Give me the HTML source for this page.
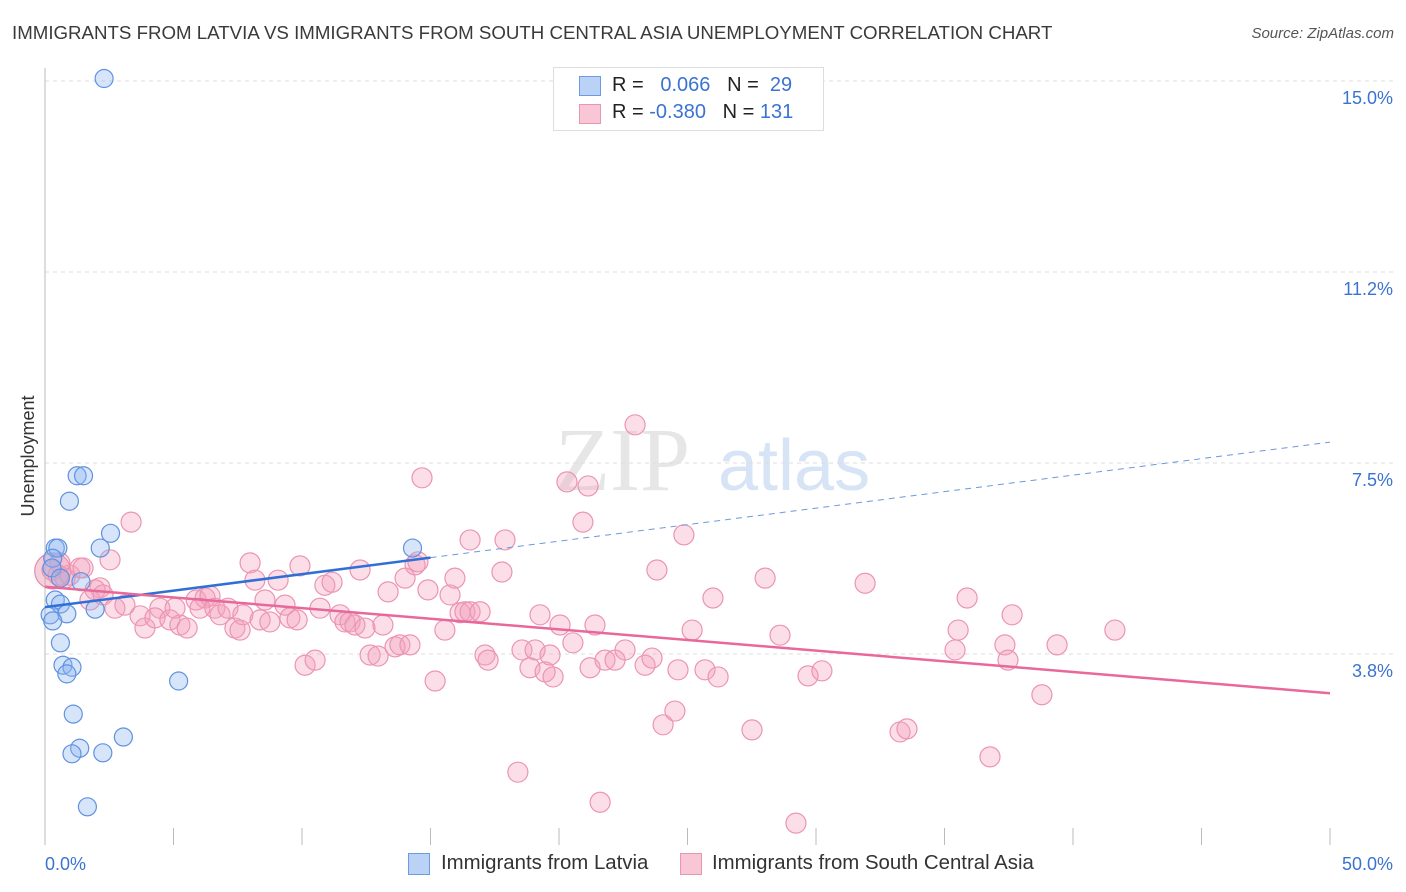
<!DOCTYPE html>
<html><head><meta charset="utf-8">
<style>
body{margin:0;background:#fff;font-family:"Liberation Sans",sans-serif;}
#wrap{position:relative;width:1406px;height:892px;overflow:hidden;}
.t{position:absolute;white-space:nowrap;}
</style></head>
<body>
<div id="wrap">
<div class="t" style="left:12px;top:22px;font-size:18.7px;color:#3a3a3a;">IMMIGRANTS FROM LATVIA VS IMMIGRANTS FROM SOUTH CENTRAL ASIA UNEMPLOYMENT CORRELATION CHART</div>
<div class="t" style="right:12px;top:25px;font-size:15px;color:#555;font-style:italic;">Source: ZipAtlas.com</div>
<svg id="svg" width="1406" height="892" style="position:absolute;left:0;top:0"></svg>
</div>
<script>
const yTicks=[3.75,7.5,11.25,15];
const yTickLabels=["3.8%","7.5%","11.2%","15.0%"];
const xTicks=[0,5,10,15,20,25,30,35,40,45,50];
const latviaX=[2.3,0.4,0.5,1.25,1.5,0.95,2.55,2.15,1.4,0.3,0.27,0.6,0.4,0.6,0.2,0.85,1.95,0.3,0.6,0.7,1.05,0.85,1.1,1.35,1.05,2.25,3.05,1.65,5.2,14.3];
const latviaY=[15.05,5.83,5.83,7.25,7.25,6.75,6.12,5.83,5.17,5.63,5.44,5.24,4.81,4.73,4.52,4.54,4.63,4.4,3.97,3.53,3.49,3.36,2.57,1.9,1.79,1.81,2.12,0.75,3.22,5.83];
const asiaX=[0.27,0.51,0.78,0.97,1.36,0.58,1.48,2.14,2.53,3.35,1.95,1.75,2.26,2.72,3.11,3.70,3.89,4.47,4.28,4.86,5.25,5.53,5.06,5.88,6.23,6.42,6.03,6.61,6.81,7.12,7.39,7.59,7.70,7.98,8.17,8.56,8.37,8.75,9.07,9.34,9.53,9.81,9.92,10.12,10.51,10.70,10.89,11.17,11.48,11.67,11.87,12.06,12.26,12.45,12.65,12.96,13.15,13.35,13.62,13.81,14.01,14.20,14.40,14.51,14.67,14.90,15.18,15.56,15.76,15.95,16.15,16.34,16.54,16.93,16.54,17.12,17.24,17.78,17.90,18.40,18.56,18.87,19.07,19.26,19.46,19.65,19.77,20.04,20.31,20.54,20.93,21.13,21.21,21.40,21.60,21.79,22.18,22.57,22.96,23.35,23.62,23.81,24.05,24.51,24.63,24.86,25.18,25.68,25.99,26.19,27.51,28.02,28.60,29.22,29.69,30.23,31.91,33.27,33.54,35.41,35.53,35.88,36.77,37.35,37.47,37.63,38.79,39.38,41.63];
const asiaY=[5.40,5.30,5.24,5.30,5.44,5.54,5.44,5.05,5.60,6.34,5.01,4.81,4.91,4.65,4.71,4.50,4.26,4.65,4.46,4.42,4.32,4.26,4.65,4.81,4.85,4.89,4.65,4.65,4.52,4.65,4.26,4.22,4.52,5.54,5.20,4.81,4.42,4.38,5.20,4.71,4.46,4.42,5.48,3.53,3.63,4.65,5.10,5.16,4.52,4.38,4.38,4.32,5.40,4.26,3.73,3.71,4.32,4.97,3.89,3.93,5.24,3.93,5.50,5.56,7.21,5.01,3.22,4.22,4.91,5.24,4.56,4.58,4.58,4.58,5.99,3.73,3.63,5.36,5.99,1.43,3.83,3.48,3.83,4.52,3.40,3.73,3.30,4.32,7.13,3.97,6.34,7.05,3.48,4.32,0.84,3.63,3.63,3.83,8.25,3.53,3.67,5.40,2.36,2.63,3.44,6.09,4.22,3.44,4.85,3.30,2.26,5.24,4.12,0.43,3.32,3.42,5.14,2.22,2.28,3.83,4.22,4.85,1.73,3.93,3.63,4.52,2.95,3.93,4.22];
const bigX=[0.3];
const bigY=[5.38];
const latviaTrend=[4.67,7.91];
const asiaTrend=[5.07,2.98];
const NS="http://www.w3.org/2000/svg";
const svg=document.getElementById('svg');
const X=v=>45+v*25.7, Y=v=>845-v*50.93;
function mk(t,a){const e=document.createElementNS(NS,t);for(const k in a)e.setAttribute(k,a[k]);svg.appendChild(e);return e;}
let w=mk('text',{x:555,y:490,'font-size':90,fill:'#e6e6e6','font-family':'Liberation Serif'});w.textContent='ZIP';


let w2=mk('text',{x:718,y:490,'font-size':72,fill:'#d6e4f5','font-family':'Liberation Sans'});w2.textContent='atlas';


yTicks.forEach((v,i)=>{
 let g=mk('line',{x1:45,x2:1393,y1:Y(v),y2:Y(v),stroke:'#ddd','stroke-dasharray':'4,4'});
 
 
 let t=mk('text',{x:1393,y:Y(v)+23,'text-anchor':'end','font-size':18,fill:'#3b73d1'});t.textContent=yTickLabels[i];
 
 
});
let ax=mk('line',{x1:45,x2:45,y1:68,y2:845,stroke:'#bbb'});


xTicks.forEach(v=>{
 let l=mk('line',{x1:X(v),x2:X(v),y1:828,y2:845,stroke:'#bbb'});
 
 
});
let xl0=mk('text',{x:45,y:870,'font-size':18,fill:'#3b73d1'});xl0.textContent='0.0%';


let xl1=mk('text',{x:1393,y:870,'text-anchor':'end','font-size':18,fill:'#3b73d1'});xl1.textContent='50.0%';


let yt=mk('text',{x:34,y:456,'font-size':18,fill:'#333','text-anchor':'middle',transform:'rotate(-90 34 456)'});yt.textContent='Unemployment';


bigX.forEach((x,i)=>{
 let c=mk('circle',{cx:X(x),cy:Y(bigY[i]),r:18,fill:'rgba(230,150,180,0.45)',stroke:'#e48aab','stroke-width':1.2});
 
 
});
asiaX.forEach((x,i)=>{
 let c=mk('circle',{cx:X(x),cy:Y(asiaY[i]),r:10,fill:'rgba(244,160,188,0.35)',stroke:'#ec94b2','stroke-width':1.2});
 
 
});
latviaX.forEach((x,i)=>{
 let c=mk('circle',{cx:X(x),cy:Y(latviaY[i]),r:9,fill:'rgba(140,180,240,0.35)',stroke:'#5f92e0','stroke-width':1.2});
 
 
});
const lt=x=>latviaTrend[0]+(latviaTrend[1]-latviaTrend[0])*x/50;
let b1=mk('line',{x1:X(0),y1:Y(lt(0)),x2:X(15),y2:Y(lt(15)),stroke:'#2f6fd6','stroke-width':2.5});


let b2=mk('line',{x1:X(15),y1:Y(lt(15)),x2:X(50),y2:Y(lt(50)),stroke:'#6c98dc','stroke-width':1,'stroke-dasharray':'6,5'});


let p1=mk('line',{x1:X(0),y1:Y(asiaTrend[0]),x2:X(50),y2:Y(asiaTrend[1]),stroke:'#e8689a','stroke-width':2.5});


</script>
<div style="position:absolute;left:553px;top:67px;width:269px;height:62px;border:1px solid #ddd;background:#fff;font-size:20px;">
 <div style="position:absolute;left:25px;top:8px;width:20px;height:18px;background:#b9d2f5;border:1px solid #6e9be0"></div>
 <div class="t" style="left:58px;top:6px;color:#222">R = <span style="color:#3b73d1">&nbsp;&nbsp;0.066</span>&nbsp;&nbsp;&nbsp;N = <span style="color:#3b73d1">&nbsp;29</span></div>
 <div style="position:absolute;left:25px;top:36px;width:20px;height:18px;background:#f9c6d6;border:1px solid #e896b2"></div>
 <div class="t" style="left:58px;top:33px;color:#222">R = <span style="color:#3b73d1">-0.380</span>&nbsp;&nbsp;&nbsp;N = <span style="color:#3b73d1">131</span></div>
</div>
<div style="position:absolute;left:408px;top:852px;font-size:20.4px;color:#333;">
 <div style="position:absolute;left:0;top:1px;width:20px;height:20px;background:#b9d2f5;border:1px solid #6e9be0"></div>
 <div class="t" style="left:33px;top:0">Immigrants from Latvia</div>
 <div style="position:absolute;left:272px;top:1px;width:20px;height:20px;background:#f9c6d6;border:1px solid #e896b2"></div>
 <div class="t" style="left:304px;top:0">Immigrants from South Central Asia</div>
</div>
</body></html>
